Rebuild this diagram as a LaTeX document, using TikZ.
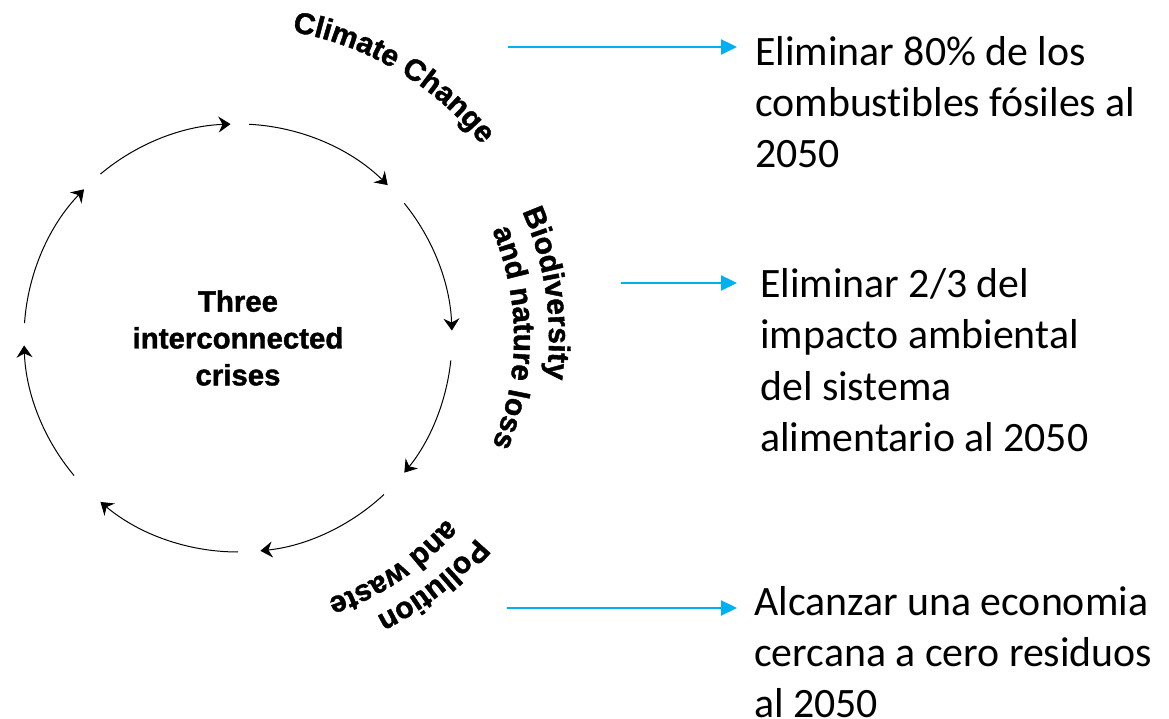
\documentclass[tikz,border=0pt]{standalone}
\usepackage{fontspec}
\usepackage{tikz}
\usetikzlibrary{positioning, arrows.meta, decorations.text}

\newfontfamily\crisisfont{Liberation Sans}[BoldFeatures={FakeBold=1.4}]
\newfontfamily\goalfont{Carlito}[Ligatures=NoCommon]
\definecolor{goalblue}{RGB}{0,176,240}

\tikzset{
    cyclearrow/.style={-{Stealth[length=12bp, width=16bp, inset=4bp]}, line width=1bp, black},
    goalarrow/.style={-{Triangle[length=16bp, width=15bp]}, line width=2.2bp, goalblue},
    goal/.style={align=left, inner sep=0pt, anchor=base west, font=\goalfont\fontsize{42}{51.5}\selectfont},
    crisislabel/.style={decorate, decoration={text along path, text align=left, text={#1}}}
}
\newcommand{\crisisformat}{\crisisfont\bfseries\fontsize{30}{36}\selectfont}

\begin{document}
\begin{tikzpicture}[x=1bp, y=1bp]
    \useasboundingbox (0,0) rectangle (1169,719);
    \coordinate (hub) at (238,381);

    % the cycle of arrows
    \foreach \a/\b in {87/45.6, 39/2, -6/-39, -47/-84, -90/-130, -140/-178, 176/136, 130/92}
        \draw [cyclearrow] (hub) ++(\a:214) arc[start angle=\a, end angle=\b, radius=214];

    \node [align=center, font=\crisisfont\bfseries\fontsize{29.5}{37}\selectfont] (crises) at (hub) {Three\\interconnected\\crises};

    % labels round the circle
    \path [crisislabel={|\crisisformat|Climate Change}] (hub) ++(80:311) arc[start angle=80, end angle=15, radius=311];
    \path [crisislabel={|\crisisformat|Biodiversity}] (hub) ++(24:311) arc[start angle=24, end angle=-40, radius=311];
    \path [crisislabel={|\crisisformat|and nature loss}] (hub) ++(23:276) arc[start angle=23, end angle=-45, radius=276];
    \path [crisislabel={|\crisisformat|Pollution}] (hub) ++(-40:311) arc[start angle=-40, end angle=-100, radius=311];
    \path [crisislabel={|\crisisformat|and waste}] (hub) ++(-41:276) arc[start angle=-41, end angle=-100, radius=276];

    % goals (anchored at the last baseline)
    \node [goal] (goal1) at (755,551) {Eliminar 80\% de los\\combustibles fósiles al\\2050};
    \node [goal] (goal2) at (760,267.5) {Eliminar 2/3 del\\impacto ambiental\\del sistema\\alimentario al 2050};
    \node [goal] (goal3) at (754,1) {Alcanzar una economia\\cercana a cero residuos\\al 2050};

    \coordinate (from1) at (508,672);
    \coordinate (from2) at (621,436);
    \coordinate (from3) at (507,111);
    \draw [goalarrow, shorten >=18bp] (from1) -- (from1 -| goal1.west);
    \draw [goalarrow, shorten >=23bp] (from2) -- (from2 -| goal2.west);
    \draw [goalarrow, shorten >=17bp] (from3) -- (from3 -| goal3.west);
\end{tikzpicture}
\end{document}
